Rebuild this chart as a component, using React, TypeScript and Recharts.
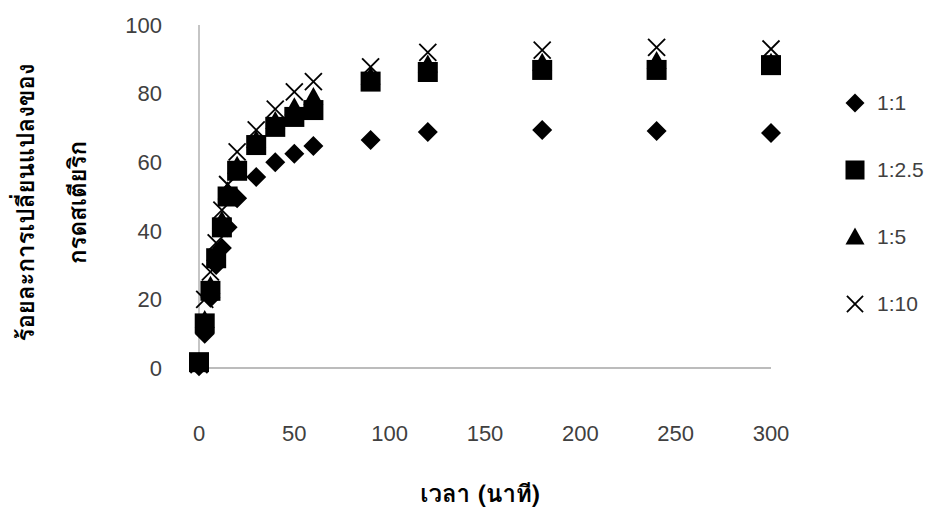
import { Legend, Scatter, ScatterChart, XAxis, YAxis } from "recharts";

// sampling times (min) and % conversion of stearic acid for each molar ratio
const times = [0, 3, 6, 9, 12, 15, 20, 30, 40, 50, 60, 90, 120, 180, 240, 300];
const ratio1 = [0.5, 10, 20.5, 30, 35, 41, 49.5, 55.7, 60, 62.5, 64.7, 66.5, 68.8, 69.4, 69.1, 68.5];
const ratio2_5 = [1.7, 13, 22.5, 32, 41, 50, 57.5, 65, 70.3, 73.2, 75.2, 83.5, 86.3, 86.9, 86.9, 88.3];
const ratio5 = [1.7, 14, 24, 33.5, 43, 51.5, 59, 66.5, 72, 76, 79, 85, 88.5, 89, 89.5, 89];
const ratio10 = [1, 20, 28, 36.5, 46, 53.5, 63, 69.4, 75.5, 80.5, 83.5, 87.8, 92, 92.7, 93.5, 93];

const xTicks = [0, 50, 100, 150, 200, 250, 300];
const yTicks = [0, 20, 40, 60, 80, 100];

type MarkerKind = "diamond" | "square" | "triangle" | "x";

const series: { name: string; values: number[]; marker: MarkerKind }[] = [
  { name: "1:1", values: ratio1, marker: "diamond" },
  { name: "1:2.5", values: ratio2_5, marker: "square" },
  { name: "1:5", values: ratio5, marker: "triangle" },
  { name: "1:10", values: ratio10, marker: "x" },
];

const INK = "#000000";
const TEXT = "#404040";
const AXIS = "#a6a6a6";
const NUM_FONT = "'Liberation Sans', Arial, sans-serif";
const THAI_FONT =
  "Loma, Garuda, Kinnari, 'Noto Sans Thai Looped', 'Noto Serif Thai', 'Noto Sans Thai', Tahoma, sans-serif";

function Marker({ kind, cx, cy, size = 20 }: { kind: MarkerKind; cx: number; cy: number; size?: number }) {
  const h = size / 2;
  if (kind === "diamond") {
    return <polygon points={`${cx},${cy - h} ${cx + h},${cy} ${cx},${cy + h} ${cx - h},${cy}`} fill={INK} />;
  }
  if (kind === "square") {
    return <rect x={cx - h} y={cy - h} width={size} height={size} fill={INK} />;
  }
  if (kind === "triangle") {
    return <polygon points={`${cx},${cy - h} ${cx + h},${cy + h * 0.8} ${cx - h},${cy + h * 0.8}`} fill={INK} />;
  }
  const a = h * 0.85;
  return (
    <g stroke={INK} strokeWidth={1.8}>
      <line x1={cx - a} y1={cy - a} x2={cx + a} y2={cy + a} />
      <line x1={cx - a} y1={cy + a} x2={cx + a} y2={cy - a} />
    </g>
  );
}

function markerShape(kind: MarkerKind) {
  return (props: any) => <Marker kind={kind} cx={props.cx} cy={props.cy} />;
}

// keep legend rows in series order
function LegendBox({ payload }: any) {
  const names = (payload ?? []).map((p: any) => p.value);
  const rows = series.filter((s) => names.includes(s.name));
  return (
    <div style={{ display: "flex", flexDirection: "column" }}>
      {rows.map((s) => (
        <div key={s.name} style={{ display: "flex", alignItems: "center", height: 67 }}>
          <svg width={22} height={22} style={{ marginRight: 11 }}>
            <Marker kind={s.marker} cx={11} cy={11} size={19} />
          </svg>
          <span style={{ fontFamily: NUM_FONT, fontSize: 21, color: TEXT }}>{s.name}</span>
        </div>
      ))}
    </div>
  );
}

function YTitle({ viewBox }: any) {
  const cy = viewBox.y + viewBox.height / 2 + 6;
  const lines = [
    { x: 25, text: "ร้อยละการเปลี่ยนแปลงของ" },
    { x: 77, text: "กรดสเตียริก" },
  ];
  return (
    <g>
      {lines.map((l) => (
        <text
          key={l.text}
          x={l.x}
          y={cy}
          transform={`rotate(-90 ${l.x} ${cy})`}
          textAnchor="middle"
          dominantBaseline="central"
          fontFamily={THAI_FONT}
          fontWeight="bold"
          fontSize={24}
          fill={INK}
        >
          {l.text}
        </text>
      ))}
    </g>
  );
}

function XTitle({ viewBox }: any) {
  const cx = viewBox.x + viewBox.width / 2;
  return (
    <text
      x={cx - 5}
      y={493}
      textAnchor="middle"
      dominantBaseline="central"
      fontFamily={THAI_FONT}
      fontWeight="bold"
      fontSize={24}
      fill={INK}
    >
      เวลา (นาที)
    </text>
  );
}

export default function App() {
  return (
    <div style={{ position: "absolute", left: 0, top: 0, width: 934, height: 514, background: "#fff" }}>
      <ScatterChart width={934} height={514} margin={{ top: 25, right: 163, bottom: 86, left: 139 }}>
        <XAxis
          type="number"
          dataKey="t"
          domain={[0, 300]}
          ticks={xTicks}
          interval={0}
          height={60}
          tickLine={false}
          tickSize={0}
          tickMargin={57}
          axisLine={{ stroke: AXIS, strokeWidth: 1.3 }}
          tick={{ fill: TEXT, fontSize: 22, fontFamily: NUM_FONT }}
          label={<XTitle />}
        />
        <YAxis
          type="number"
          dataKey="v"
          domain={[0, 100]}
          ticks={yTicks}
          interval={0}
          width={60}
          tickLine={false}
          tickSize={0}
          tickMargin={37}
          axisLine={{ stroke: AXIS, strokeWidth: 1.3 }}
          tick={{ fill: TEXT, fontSize: 22, fontFamily: NUM_FONT }}
          label={<YTitle />}
        />
        <Legend
          layout="vertical"
          align="center"
          verticalAlign="middle"
          content={<LegendBox />}
          wrapperStyle={{ position: "absolute", left: 844, top: 69, width: 90 }}
        />
        {series.map((s) => (
          <Scatter
            key={s.name}
            name={s.name}
            data={times.map((t, i) => ({ t, v: s.values[i] }))}
            fill={INK}
            shape={markerShape(s.marker)}
            legendType="square"
            isAnimationActive={false}
          />
        ))}
      </ScatterChart>
    </div>
  );
}
